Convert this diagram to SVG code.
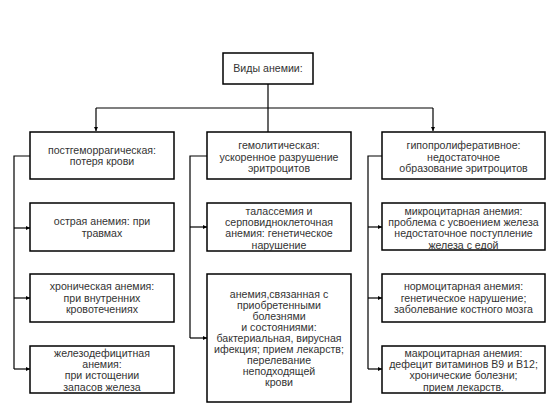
<svg xmlns="http://www.w3.org/2000/svg" width="558" height="414" viewBox="0 0 558 414">
<defs>
<marker id="ah" viewBox="0 0 6 6" refX="6" refY="3" markerWidth="4.5" markerHeight="4.5" orient="auto" markerUnits="userSpaceOnUse">
<path d="M0,0 L6,3 L0,6 z" fill="#000"/>
</marker>
<style>
.box{fill:#fff;stroke:#000;stroke-width:1.5}
.t{font-family:"Liberation Sans",Arial,sans-serif;font-size:10.6px;fill:#333;text-anchor:middle}
.c{fill:none;stroke:#000;stroke-width:1.2}
</style>
</defs>
<rect width="558" height="414" fill="#fff"/>
<g id="connectors">
<path class="c" d="M268,84 V108 M96,108 H433"/>
<path class="c" d="M96,108 V131" marker-end="url(#ah)"/>
<path class="c" d="M268,108 V132"/>
<path class="c" d="M433,108 V131" marker-end="url(#ah)"/>
<path class="c" d="M30,156 H14 V369"/>
<path class="c" d="M14,228 H30" marker-end="url(#ah)"/>
<path class="c" d="M14,298 H30" marker-end="url(#ah)"/>
<path class="c" d="M14,369 H30" marker-end="url(#ah)"/>
<path class="c" d="M207,156 H190 V338"/>
<path class="c" d="M190,227 H207" marker-end="url(#ah)"/>
<path class="c" d="M190,338 H207" marker-end="url(#ah)"/>
<path class="c" d="M382,156 H368 V369"/>
<path class="c" d="M368,227 H382" marker-end="url(#ah)"/>
<path class="c" d="M368,298 H382" marker-end="url(#ah)"/>
<path class="c" d="M368,369 H382" marker-end="url(#ah)"/>
</g>
<g id="root"><rect class="box" x="223" y="53" width="90" height="31"/><text class="t" x="268" y="72">Виды анемии:</text></g>
<g id="l1"><rect class="box" x="30" y="132" width="144" height="47"/><text class="t" x="102"><tspan x="102" y="153.5">постгеморрагическая:</tspan><tspan x="102" y="165">потеря крови</tspan></text></g>
<g id="l2"><rect class="box" x="30" y="203" width="144" height="48"/><text class="t"><tspan x="102" y="225">острая анемия: при</tspan><tspan x="102" y="236.5">травмах</tspan></text></g>
<g id="l3"><rect class="box" x="30" y="274" width="144" height="48"/><text class="t"><tspan x="102" y="290.3">хроническая анемия:</tspan><tspan x="102" y="301.6">при внутренних</tspan><tspan x="102" y="312.9">кровотечениях</tspan></text></g>
<g id="l4"><rect class="box" x="30" y="346" width="144" height="47"/><text class="t"><tspan x="102" y="356.6">железодефицитная</tspan><tspan x="102" y="367.9">анемия:</tspan><tspan x="102" y="379.2">при истощении</tspan><tspan x="102" y="390.5">запасов железа</tspan></text></g>
<g id="m1"><rect class="box" x="207" y="132" width="144" height="47"/><text class="t"><tspan x="279" y="149.3">гемолитическая:</tspan><tspan x="279" y="160.6">ускоренное разрушение</tspan><tspan x="279" y="171.9">эритроцитов</tspan></text></g>
<g id="m2"><rect class="box" x="207" y="203" width="144" height="48"/><text class="t"><tspan x="279" y="214.6">талассемия и</tspan><tspan x="279" y="225.9">серповидноклеточная</tspan><tspan x="279" y="237.2">анемия: генетическое</tspan><tspan x="279" y="248.5">нарушение</tspan></text></g>
<g id="m3"><rect class="box" x="207" y="274" width="144" height="128"/><text class="t"><tspan x="279" y="297.6">анемия,связанная с</tspan><tspan x="279" y="308.7">приобретенными</tspan><tspan x="279" y="319.8">болезнями</tspan><tspan x="279" y="330.9">и состояниями:</tspan><tspan x="279" y="342">бактериальная, вирусная</tspan><tspan x="279" y="353.1">ифекция; прием лекарств;</tspan><tspan x="279" y="364.2">перелевание</tspan><tspan x="279" y="375.3">неподходящей</tspan><tspan x="279" y="386.4">крови</tspan></text></g>
<g id="r1"><rect class="box" x="382" y="132" width="163" height="47"/><text class="t"><tspan x="463.5" y="149.3">гипопролиферативное:</tspan><tspan x="463.5" y="160.6">недостаточное</tspan><tspan x="463.5" y="171.9">образование эритроцитов</tspan></text></g>
<g id="r2"><rect class="box" x="382" y="203" width="163" height="47"/><text class="t"><tspan x="463.5" y="214.6">микроцитарная анемия:</tspan><tspan x="463.5" y="225.9">проблема с усвоением железа</tspan><tspan x="463.5" y="237.2">недостаточное поступление</tspan><tspan x="463.5" y="248.5">железа с едой</tspan></text></g>
<g id="r3"><rect class="box" x="382" y="274" width="163" height="48"/><text class="t"><tspan x="463.5" y="290.3">нормоцитарная анемия:</tspan><tspan x="463.5" y="301.6">генетическое нарушение;</tspan><tspan x="463.5" y="312.9">заболевание костного мозга</tspan></text></g>
<g id="r4"><rect class="box" x="382" y="346" width="163" height="47"/><text class="t"><tspan x="463.5" y="356.6">макроцитарная анемия:</tspan><tspan x="463.5" y="367.9">дефецит витаминов В9 и В12;</tspan><tspan x="463.5" y="379.2">хронические болезни;</tspan><tspan x="463.5" y="390.5">прием лекарств.</tspan></text></g>
</svg>
